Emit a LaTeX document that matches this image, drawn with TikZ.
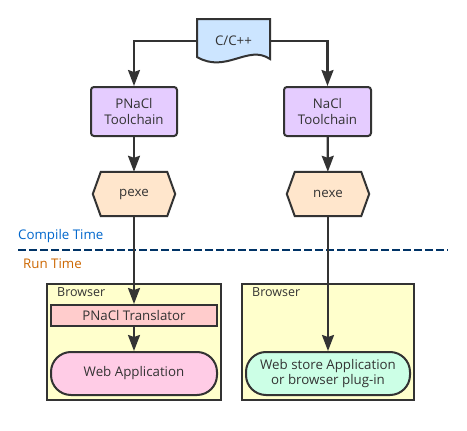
\documentclass[tikz,border=0pt]{standalone}
\usepackage{fontspec}
\setmainfont{Open Sans}
\usetikzlibrary{arrows.meta}
\definecolor{inkcolor}{RGB}{51,51,51}
\definecolor{doccolor}{RGB}{204,229,255}
\definecolor{toolcolor}{RGB}{229,204,255}
\definecolor{binarycolor}{RGB}{255,230,204}
\definecolor{browsercolor}{RGB}{255,255,204}
\definecolor{transcolor}{RGB}{255,204,204}
\definecolor{webappcolor}{RGB}{255,204,230}
\definecolor{storecolor}{RGB}{204,255,230}
\definecolor{compilecolor}{RGB}{0,102,204}
\definecolor{runcolor}{RGB}{204,102,0}
\definecolor{splitcolor}{RGB}{0,51,102}

\begin{document}
\begin{tikzpicture}[x=1pt, y=-1pt, font=\fontsize{13.3}{15.5}\selectfont, text=inkcolor,
    toolbox/.style={draw=inkcolor, line width=2pt, fill=toolcolor, rounded corners=3pt,
        minimum width=86pt, minimum height=49pt, align=center, inner sep=0pt},
    binbox/.style={minimum width=82pt, minimum height=44pt, inner sep=0pt},
    appbox/.style={draw=inkcolor, line width=2pt, rounded corners=20pt,
        minimum height=43pt, align=center, inner sep=0pt},
    flow/.style={draw=inkcolor, line width=2.2pt, -{Stealth[length=16pt,width=12pt,inset=2pt]}}]
    \useasboundingbox (0,0) rectangle (467,431);

    % source document
    \draw[inkcolor, line width=2pt, fill=doccolor] (197,19) -- (270,19) -- (270,59)
        .. controls (248,44) and (226,74) .. (197,57) -- cycle;
    \node[minimum width=73pt, inner sep=0pt] (src) at (233.5,41) {C/C++};

    % toolchains
    \node[toolbox] (pnacl) at (134,111.5) {PNaCl\\Toolchain};
    \node[toolbox, minimum width=87pt] (nacl) at (327.5,111.5) {NaCl\\Toolchain};

    % pexe / nexe hexagons
    \foreach \name/\x/\txt in {pexe/134/pexe, nexe/328/nexe} {
        \node[binbox] (\name) at (\x,194) {};
        \draw[inkcolor, line width=2pt, fill=binarycolor]
            (\name.west) -- ([xshift=8pt]\name.north west) -- ([xshift=-8pt]\name.north east)
            -- (\name.east) -- ([xshift=-8pt]\name.south east) -- ([xshift=8pt]\name.south west) -- cycle;
        \node at (\name) {\txt};
    }

    % compile / run split
    \node[anchor=west, text=compilecolor, inner sep=0pt] (compile) at (18,236) {Compile Time};
    \coordinate (splitl) at (18,250);
    \coordinate (splitr) at (448,250);
    \draw[splitcolor, line width=2pt, dash pattern=on 7.5pt off 3.5pt] (splitl) -- (splitr);
    \node[anchor=west, text=runcolor, inner sep=0pt] (run) at (23,264) {Run Time};

    % browsers
    \draw[inkcolor, line width=2pt, fill=browsercolor] (47,284) rectangle (221,400);
    \draw[inkcolor, line width=2pt, fill=browsercolor] (242,284) rectangle (414,400);
    \node[anchor=west, inner sep=0pt, font=\fontsize{12.5}{14}\selectfont] (brl) at (57,292.5) {Browser};
    \node[anchor=west, inner sep=0pt, font=\fontsize{12.5}{14}\selectfont] (brr) at (252,292.5) {Browser};

    \node[draw=inkcolor, line width=2pt, fill=transcolor, minimum width=166pt,
        minimum height=21pt, inner sep=0pt] (trans) at (134,315.5) {PNaCl Translator};
    \node[appbox, fill=webappcolor, minimum width=166pt] (webapp) at (134,373.5) {Web Application};
    \node[appbox, fill=storecolor, minimum width=164pt] (store) at (328,373.5)
        {Web store Application\\or browser plug-in};

    % connectors
    \draw[flow] (src.west) -| (pnacl.north);
    \draw[flow] (src.east) -| (nacl.north);
    \draw[flow] (pnacl) -- (pexe);
    \draw[flow] (nacl) -- (nexe);
    \draw[flow] (pexe) -- (trans);
    \draw[flow] (trans) -- (webapp);
    \draw[flow] (nexe) -- (store);
\end{tikzpicture}
\end{document}
